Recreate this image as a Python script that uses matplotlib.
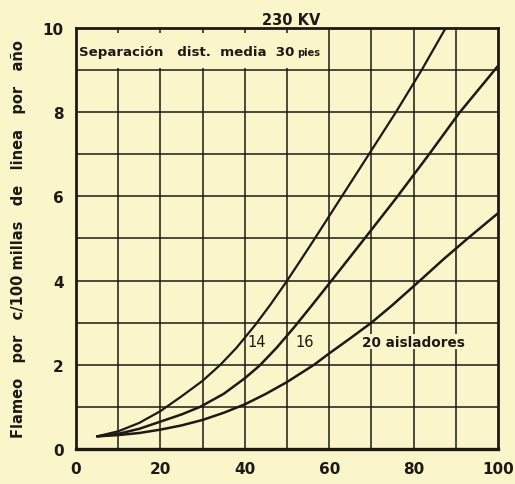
import matplotlib.pyplot as plt

# datos (eje x: 0-100, eje y: flameos por 100 millas por año)
x_14 = [5, 10, 15, 20, 25, 30, 34.2, 38, 42.5, 46, 49.7, 53, 56.4, 62.8, 69.4, 75.8, 81.9, 87.6]
y_14 = [0.30, 0.42, 0.62, 0.90, 1.25, 1.62, 2.0, 2.4, 2.95, 3.42, 3.95, 4.45, 4.97, 5.97, 7.0, 8.0, 9.0, 10.0]

x_16 = [5, 10, 15, 20, 25, 29.4, 35, 40, 43.5, 47.5, 51.6, 55.8, 60, 68, 75.8, 83.3, 90.8, 100]
y_16 = [0.30, 0.36, 0.48, 0.65, 0.82, 1.0, 1.31, 1.68, 1.98, 2.4, 2.88, 3.4, 3.93, 4.95, 5.95, 6.95, 7.98, 9.1]

x_20 = [5, 10, 15, 20, 25, 30, 35, 40, 45, 50, 56.4, 60, 65, 70, 75, 81.5, 87, 92.8, 100]
y_20 = [0.30, 0.33, 0.38, 0.46, 0.56, 0.69, 0.86, 1.06, 1.31, 1.59, 2.0, 2.27, 2.63, 3.0, 3.42, 4.0, 4.5, 5.0, 5.6]

xticks = [0, 20, 40, 60, 80, 100]
yticks = [0, 2, 4, 6, 8, 10]

fondo = '#fbf6c9'
tinta = '#1c1a16'

fig = plt.figure(figsize=(5.15, 4.85), dpi=100, facecolor=fondo)
ax = fig.add_axes([0.1476, 0.0722, 0.8194, 0.868], facecolor=fondo)

# cuadricula
for xv in range(10, 100, 10):
    ax.axvline(xv, color=tinta, lw=1.1, zorder=1)
for yv in range(1, 10):
    ax.axhline(yv, color=tinta, lw=1.1, zorder=1)

# recuadro del texto superior (tapa la cuadricula)
ax.add_patch(plt.Rectangle((0, 9.05), 59.7, 0.82, facecolor=fondo, edgecolor='none', zorder=2))
t1 = ax.text(0.8, 9.45, 'Separación   dist.  media  30', fontsize=9.6, fontweight='bold',
             color=tinta, va='center', ha='left', zorder=3)
ax.annotate('pies', xy=(1, 0.45), xycoords=t1, xytext=(1.5, 0), textcoords='offset points',
            fontsize=7, fontweight='bold', color=tinta, va='center', ha='left', zorder=3)

# curvas
ax.plot(x_14, y_14, color=tinta, lw=1.6, zorder=4, solid_capstyle='round')
ax.plot(x_16, y_16, color=tinta, lw=1.8, zorder=4, solid_capstyle='round')
ax.plot(x_20, y_20, color=tinta, lw=1.8, zorder=4, solid_capstyle='round')

# etiquetas de curvas
ax.text(42.9, 2.55, '14', fontsize=10.5, color=tinta, ha='center', va='center', zorder=3,
        bbox=dict(facecolor=fondo, edgecolor='none', pad=0.5))
ax.text(54.3, 2.55, '16', fontsize=10.5, color=tinta, ha='center', va='center', zorder=3,
        bbox=dict(facecolor=fondo, edgecolor='none', pad=0.5))
ax.text(67.8, 2.55, '20 aisladores', fontsize=9.8, fontweight='bold', color=tinta,
        ha='left', va='center', zorder=3, bbox=dict(facecolor=fondo, edgecolor='none', pad=0.5))

ax.set_xlim(0, 100)
ax.set_ylim(0, 10)
ax.set_xticks(xticks)
ax.set_yticks(yticks)
ax.set_xticklabels([str(v) for v in xticks], fontsize=11, fontweight='bold', color=tinta)
ax.set_yticklabels([str(v) for v in yticks], fontsize=11, fontweight='bold', color=tinta)
ax.tick_params(length=0, pad=9)

for s in ax.spines.values():
    s.set_linewidth(2.0)
    s.set_color(tinta)
ax.spines['bottom'].set_linewidth(2.4)

ax.set_title('230 KV', fontsize=10.5, fontweight='bold', color=tinta, pad=3, x=0.51)
ax.set_ylabel('Flameo   por   c/100 millas   de   linea   por   año', fontsize=10.5,
              fontweight='bold', color=tinta, labelpad=12)

fig.savefig('out.png', dpi=100, facecolor=fondo)
